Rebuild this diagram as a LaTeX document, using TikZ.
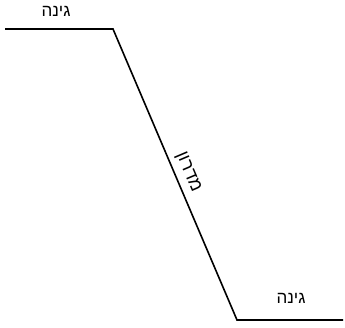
\documentclass[tikz,border=0pt]{standalone}
\usepackage{fontspec}
\setmainfont{Liberation Sans}
\newfontfamily\hebfont[Script=Hebrew]{Liberation Sans}
\TeXXeTstate=1
\begin{document}
\begin{tikzpicture}[x=1pt,y=-1pt,
  lbl/.style={font=\hebfont\fontsize{17}{19}\selectfont, inner sep=0pt},
  ground/.style={line width=1.6pt, line join=miter}]
\useasboundingbox (0,0) rectangle (345,328);
\coordinate (a) at (5,29);
\coordinate (b) at (113,29);
\coordinate (c) at (237,320);
\coordinate (d) at (343,320);
\draw[ground] (a) -- (b) -- (c) -- (d);
\path (b) -- node[sloped, pos=0.5, anchor=center, xshift=3pt, yshift=13pt, lbl, font=\hebfont\fontsize{18}{20}\selectfont] (slope) {\beginR מדרון\endR} (c);
\node[lbl] (top) at (56,11) {\beginR גינה\endR};
\node[lbl] (bottom) at (291,298) {\beginR גינה\endR};
\end{tikzpicture}
\end{document}
